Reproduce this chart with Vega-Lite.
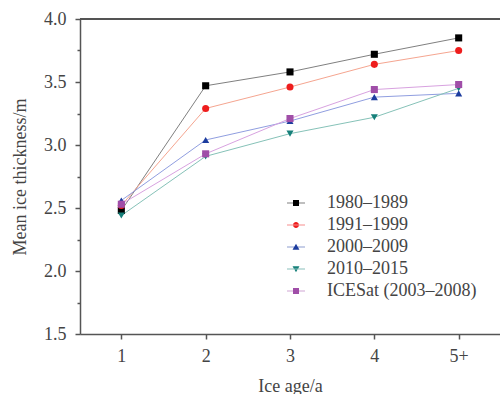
{
  "$schema": "https://vega.github.io/schema/vega-lite/v6.json",
  "autosize": {"type": "none"},
  "padding": {"left": 80, "top": 19, "right": 0, "bottom": 60},
  "width": 420,
  "height": 315,
  "background": "white",
  "config": {
    "view": {"stroke": null},
    "font": "Liberation Serif",
    "axis": {
      "labelFont": "Liberation Serif",
      "titleFont": "Liberation Serif",
      "labelFontSize": 18,
      "titleFontSize": 18,
      "titleFontWeight": "normal",
      "labelColor": "#444",
      "titleColor": "#444",
      "domainColor": "#555",
      "tickColor": "#555",
      "domainWidth": 1.5,
      "tickWidth": 1.5,
      "grid": false
    },
    "legend": {
      "labelFont": "Liberation Serif",
      "labelFontSize": 18,
      "labelColor": "#444"
    }
  },
  "data": {
    "values": [
      {"age": "1", "period": "1980–1989", "thickness": 2.48},
      {"age": "2", "period": "1980–1989", "thickness": 3.47},
      {"age": "3", "period": "1980–1989", "thickness": 3.58},
      {"age": "4", "period": "1980–1989", "thickness": 3.72},
      {"age": "5+", "period": "1980–1989", "thickness": 3.85},
      {"age": "1", "period": "1991–1999", "thickness": 2.52},
      {"age": "2", "period": "1991–1999", "thickness": 3.29},
      {"age": "3", "period": "1991–1999", "thickness": 3.46},
      {"age": "4", "period": "1991–1999", "thickness": 3.64},
      {"age": "5+", "period": "1991–1999", "thickness": 3.75},
      {"age": "1", "period": "2000–2009", "thickness": 2.56},
      {"age": "2", "period": "2000–2009", "thickness": 3.04},
      {"age": "3", "period": "2000–2009", "thickness": 3.19},
      {"age": "4", "period": "2000–2009", "thickness": 3.38},
      {"age": "5+", "period": "2000–2009", "thickness": 3.41},
      {"age": "1", "period": "2010–2015", "thickness": 2.44},
      {"age": "2", "period": "2010–2015", "thickness": 2.91},
      {"age": "3", "period": "2010–2015", "thickness": 3.09},
      {"age": "4", "period": "2010–2015", "thickness": 3.22},
      {"age": "5+", "period": "2010–2015", "thickness": 3.45},
      {"age": "1", "period": "ICESat (2003–2008)", "thickness": 2.53},
      {"age": "2", "period": "ICESat (2003–2008)", "thickness": 2.93},
      {"age": "3", "period": "ICESat (2003–2008)", "thickness": 3.21},
      {"age": "4", "period": "ICESat (2003–2008)", "thickness": 3.44},
      {"age": "5+", "period": "ICESat (2003–2008)", "thickness": 3.48}
    ]
  },
  "resolve": {"axis": {"y": "independent"}, "scale": {"shape": "independent", "fill": "independent"}},
  "layer": [
    {
      "mark": {"type": "line", "strokeWidth": 1},
      "encoding": {
        "x": {
          "field": "age", "type": "ordinal", "sort": null,
          "scale": {"type": "point", "padding": 0.49},
          "axis": {"title": "Ice age/a", "labelAngle": 0, "tickSize": 5, "labelPadding": 8, "titlePadding": 12}
        },
        "y": {
          "field": "thickness", "type": "quantitative",
          "scale": {"domain": [1.5, 4.0], "nice": false, "zero": false},
          "axis": {"title": "Mean ice thickness/m", "values": [1.5, 2.0, 2.5, 3.0, 3.5, 4.0], "format": ".1f", "tickSize": 5, "labelPadding": 9, "titlePadding": 14}
        },
        "stroke": {
          "field": "period", "type": "nominal",
          "scale": {"range": ["#808080", "#f5a590", "#909ee0", "#86c2b8", "#d8a2e0"]},
          "legend": null
        },
        "detail": {"field": "period"}
      }
    },
    {
      "mark": {"type": "point", "filled": true, "size": 50, "opacity": 1},
      "encoding": {
        "x": {"field": "age", "type": "ordinal", "sort": null},
        "y": {"field": "thickness", "type": "quantitative", "axis": null},
        "fill": {
          "field": "period", "type": "nominal",
          "scale": {"range": ["#000000", "#ee1d1d", "#1c3c9e", "#16807a", "#a04ea8"]},
          "legend": null
        },
        "shape": {
          "field": "period", "type": "nominal",
          "scale": {"range": ["square", "circle", "triangle-up", "triangle-down", "square"]},
          "legend": null
        }
      }
    },
    {
      "mark": {"type": "point", "filled": true, "size": 50, "opacity": 0},
      "encoding": {
        "x": {"field": "age", "type": "ordinal", "sort": null},
        "y": {"field": "thickness", "type": "quantitative", "axis": null},
        "fill": {
          "field": "period", "type": "nominal",
          "scale": {"range": ["#000000", "#ee1d1d", "#1c3c9e", "#16807a", "#a04ea8"]},
          "legend": {
            "title": null, "orient": "none", "legendX": 207, "legendY": 175,
            "padding": 0, "symbolSize": 36, "labelOffset": 22, "rowPadding": 4, "symbolOpacity": 1
          }
        },
        "shape": {
          "field": "period", "type": "nominal",
          "scale": {"range": [
            "M-3,-0.08L3,-0.08L3,0.08L-3,0.08ZM-1,-1L1,-1L1,1L-1,1Z",
            "M-3,-0.08L3,-0.08L3,0.08L-3,0.08ZM-1,0A1,1 0 1,0 1,0A1,1 0 1,0 -1,0Z",
            "M-3,-0.08L3,-0.08L3,0.08L-3,0.08ZM0,-1.1L1.15,0.9L-1.15,0.9Z",
            "M-3,-0.08L3,-0.08L3,0.08L-3,0.08ZM0,1.1L1.15,-0.9L-1.15,-0.9Z",
            "M-3,-0.08L3,-0.08L3,0.08L-3,0.08ZM-1,-1L1,-1L1,1L-1,1Z"
          ]},
          "legend": {
            "title": null, "orient": "none", "legendX": 207, "legendY": 175,
            "padding": 0, "symbolSize": 36, "labelOffset": 22, "rowPadding": 4, "symbolOpacity": 1
          }
        }
      }
    },
    {
      "mark": {"type": "rule", "color": "#555", "strokeWidth": 1.5},
      "encoding": {
        "y": {
          "datum": 4.0, "type": "quantitative",
          "axis": {"orient": "left", "values": [1.75, 2.25, 2.75, 3.25, 3.75], "labels": false, "tickSize": 3, "domain": false, "title": null}
        }
      }
    }
  ]
}
